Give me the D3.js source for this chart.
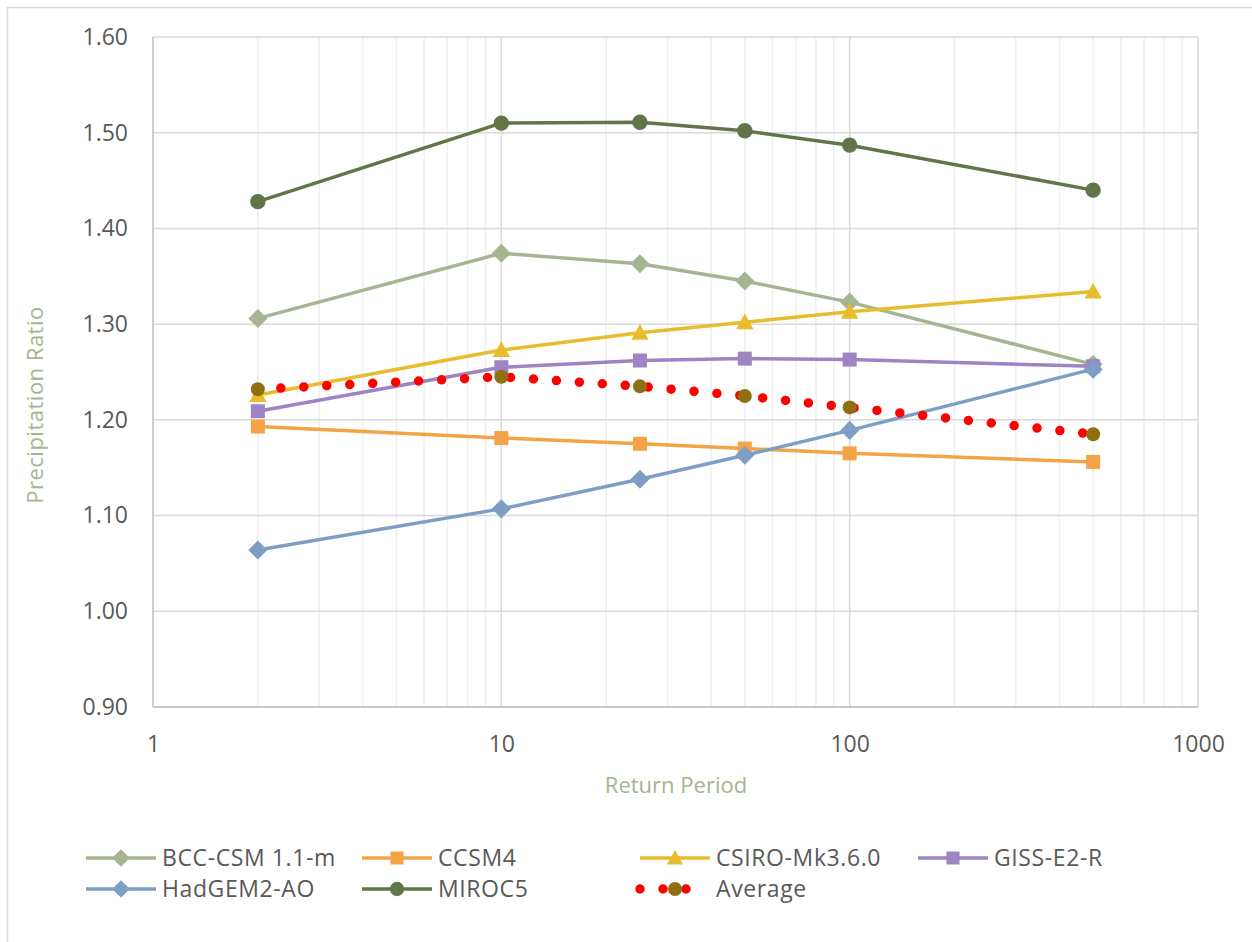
<!DOCTYPE html>
<html>
<head>
<meta charset="utf-8">
<script src="https://cdn.jsdelivr.net/npm/d3@7"></script>
<style>
body { margin: 0; background: #fff; }
text { font-family: "Open Sans", sans-serif; }
</style>
</head>
<body>
<script>
// return periods (years) on the log x axis
var periods = [2, 10, 25, 50, 100, 500];
var bcc    = [1.306, 1.374, 1.363, 1.345, 1.323, 1.258];
var ccsm4  = [1.193, 1.181, 1.175, 1.170, 1.165, 1.156];
var csiro  = [1.226, 1.273, 1.291, 1.302, 1.313, 1.334];
var giss   = [1.209, 1.255, 1.262, 1.264, 1.263, 1.256];
var hadgem = [1.064, 1.107, 1.138, 1.163, 1.189, 1.253];
var miroc5 = [1.428, 1.510, 1.511, 1.502, 1.487, 1.440];
var average = [1.232, 1.245, 1.235, 1.225, 1.213, 1.185];
var yTicks = [0.9, 1.0, 1.1, 1.2, 1.3, 1.4, 1.5, 1.6];
var xTicks = [1, 10, 100, 1000];

var series = [
	{name: "BCC-CSM 1.1-m", values: bcc,    color: "#a5b592", marker: "diamond"},
	{name: "CCSM4",         values: ccsm4,  color: "#f3a447", marker: "square"},
	{name: "CSIRO-Mk3.6.0", values: csiro,  color: "#e8bc2d", marker: "triangle"},
	{name: "GISS-E2-R",     values: giss,   color: "#9d84c2", marker: "square"},
	{name: "HadGEM2-AO",    values: hadgem, color: "#7f9ec6", marker: "diamond"},
	{name: "MIROC5",        values: miroc5, color: "#627549", marker: "circle"}
];

var W = 1252, H = 942;
var svg = d3.select("body").append("svg").attr("width", W).attr("height", H);

// chart frame (only left/top edges fall in the picture)
svg.append("rect").attr("x", 7.5).attr("y", 7.5).attr("width", 1400).attr("height", 1100)
	.attr("fill", "none").attr("stroke", "#d9d9d9").attr("stroke-width", 1.5);

var pLeft = 153, pRight = 1198, pTop = 37, pBottom = 707;
var x = d3.scaleLog().domain([1, 1000]).range([pLeft, pRight]);
var y = d3.scaleLinear().domain([0.9, 1.6]).range([pBottom, pTop]);

var g = svg.append("g");

// minor log gridlines
var minor = [];
for (var dec = 1; dec < 1000; dec *= 10) {
	for (var k = 2; k <= 9; k++) minor.push(dec * k);
}
g.selectAll("line.minor").data(minor).enter().append("line")
	.attr("x1", d => x(d)).attr("x2", d => x(d)).attr("y1", pTop).attr("y2", pBottom)
	.attr("stroke", "#efefef").attr("stroke-width", 1.5);

// horizontal gridlines
g.selectAll("line.hgrid").data(yTicks).enter().append("line")
	.attr("x1", pLeft).attr("x2", pRight).attr("y1", d => y(d)).attr("y2", d => y(d))
	.attr("stroke", "#d9d9d9").attr("stroke-width", 1.5);

// major log gridlines
g.selectAll("line.major").data(xTicks.slice(1)).enter().append("line")
	.attr("x1", d => x(d)).attr("x2", d => x(d)).attr("y1", pTop).attr("y2", pBottom)
	.attr("stroke", "#d9d9d9").attr("stroke-width", 1.5);

// axis lines
g.append("line").attr("x1", pLeft).attr("x2", pLeft).attr("y1", pTop).attr("y2", pBottom)
	.attr("stroke", "#bfbfbf").attr("stroke-width", 1.5);
g.append("line").attr("x1", pLeft).attr("x2", pRight).attr("y1", pBottom).attr("y2", pBottom)
	.attr("stroke", "#bfbfbf").attr("stroke-width", 1.5);

// tick labels
var yAxis = d3.axisLeft(y).tickValues(yTicks).tickFormat(d3.format(".2f")).tickSize(0).tickPadding(25);
svg.append("g").attr("transform", "translate(" + pLeft + ",0)").call(yAxis);
var xAxis = d3.axisBottom(x).tickValues(xTicks).tickFormat(d3.format("d")).tickSize(0).tickPadding(29);
svg.append("g").attr("transform", "translate(0," + pBottom + ")").call(xAxis);
svg.selectAll(".domain").remove();
svg.selectAll(".tick text").attr("fill", "#595959").style("font-size", "23px")
	.style("font-family", "'Open Sans', sans-serif");

// axis titles
svg.append("text").attr("x", 676).attr("y", 793).attr("text-anchor", "middle")
	.attr("fill", "#a5b592").style("font-size", "22px").text("Return Period");
svg.append("text").attr("transform", "translate(43,405) rotate(-90)").attr("text-anchor", "middle")
	.attr("fill", "#a5b592").style("font-size", "22px").style("letter-spacing", "0.5px").text("Precipitation Ratio");

function drawMarker(sel, type, color, size) {
	var s = size;
	if (type === "circle") {
		sel.append("circle").attr("r", s * 0.55).attr("fill", color);
	} else if (type === "square") {
		sel.append("rect").attr("x", -s / 2).attr("y", -s / 2).attr("width", s).attr("height", s).attr("fill", color);
	} else if (type === "diamond") {
		var h = s * 0.68;
		sel.append("path").attr("d", "M0," + (-h) + "L" + h + ",0L0," + h + "L" + (-h) + ",0Z").attr("fill", color);
	} else if (type === "triangle") {
		var t = s * 0.62;
		sel.append("path").attr("d", "M0," + (-t) + "L" + t + "," + (t * 0.8) + "L" + (-t) + "," + (t * 0.8) + "Z").attr("fill", color);
	}
}

var line = d3.line().x((d, i) => x(periods[i])).y(d => y(d));

series.forEach(function(s) {
	var sg = svg.append("g");
	sg.append("path").attr("d", line(s.values)).attr("fill", "none")
		.attr("stroke", s.color).attr("stroke-width", 3.5).attr("stroke-linejoin", "round");
	s.values.forEach(function(v, i) {
		var m = sg.append("g").attr("transform", "translate(" + x(periods[i]) + "," + y(v) + ")");
		drawMarker(m, s.marker, s.color, 14);
	});
});

// average: red round dots + olive circle markers
var avgG = svg.append("g");
avgG.append("path").attr("d", line(average)).attr("fill", "none")
	.attr("stroke", "#ff0000").attr("stroke-width", 9.5).attr("stroke-linecap", "round")
	.attr("stroke-dasharray", "0 23");
average.forEach(function(v, i) {
	avgG.append("circle").attr("cx", x(periods[i])).attr("cy", y(v)).attr("r", 7).attr("fill", "#8e7012");
});

// legend
var legCols = [86, 362, 640, 918];
var legRows = [858, 889];
var legItems = series.map(s => ({name: s.name, color: s.color, marker: s.marker, avg: false}));
legItems.push({name: "Average", avg: true});
legItems.forEach(function(d, i) {
	var cx = legCols[i % 4], cy = legRows[Math.floor(i / 4)];
	var lg = svg.append("g").attr("transform", "translate(" + cx + "," + cy + ")");
	if (!d.avg) {
		lg.append("line").attr("x1", 0).attr("x2", 70).attr("y1", 0).attr("y2", 0)
			.attr("stroke", d.color).attr("stroke-width", 3.5);
		var m = lg.append("g").attr("transform", "translate(35,0)");
		drawMarker(m, d.marker, d.color, 13);
	} else {
		lg.append("line").attr("x1", 0).attr("x2", 50).attr("y1", 0).attr("y2", 0)
			.attr("stroke", "#ff0000").attr("stroke-width", 9.5).attr("stroke-linecap", "round")
			.attr("stroke-dasharray", "0 23");
		lg.append("circle").attr("cx", 35).attr("cy", 0).attr("r", 7).attr("fill", "#8e7012");
	}
	lg.append("text").attr("x", 76).attr("y", 0).attr("dy", "0.36em").attr("fill", "#595959")
		.style("font-size", "23px").style("letter-spacing", "0.6px").text(d.name);
});
</script>
</body>
</html>
